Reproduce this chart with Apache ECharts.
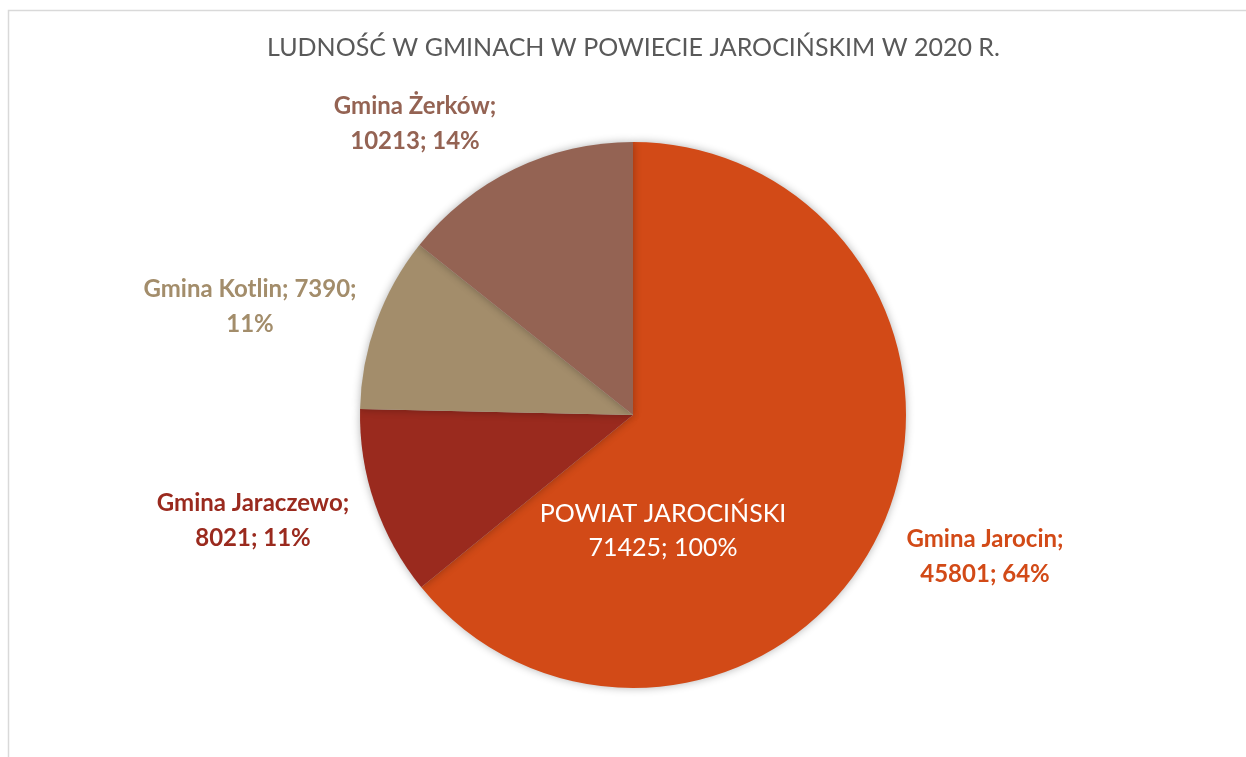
<!DOCTYPE html>
<html>
<head>
<meta charset="utf-8">
<script src="https://cdn.jsdelivr.net/npm/echarts@6/dist/echarts.min.js"></script>
<style>
  html, body { margin: 0; padding: 0; background: #fff; }
  #chart { width: 1246px; height: 757px; }
</style>
</head>
<body>
<div id="chart"></div>
<script>
// dane: ludność gmin powiatu jarocińskiego 2020
var gminy = ['Gmina Jarocin', 'Gmina Jaraczewo', 'Gmina Kotlin', 'Gmina Żerków'];
var ludnosc = [45801, 8021, 7390, 10213];
var kolory = ['#D24A17', '#9A2A1E', '#A38D6B', '#946353'];
var powiat = 'POWIAT JAROCIŃSKI';
var razem = 71425;

// pozycje etykiet (środek tekstu)
var etykietyPos = [[985, 557], [253, 521], [250, 307], [415, 124]];

var chart = echarts.init(document.getElementById('chart'));

var dane = gminy.map(function (g, i) {
    return {
        name: g,
        value: ludnosc[i],
        itemStyle: { color: kolory[i] },
        label: {
            color: kolory[i],
            formatter: i === 2 ? '{b}; {c};\n{d}%' : '{b};\n{c}; {d}%'
        }
    };
});

chart.setOption({
    animation: false,
    title: {
        text: 'LUDNOŚĆ W GMINACH W POWIECIE JAROCIŃSKIM W 2020 R.',
        left: 267,
        top: 35,
        padding: 0,
        textStyle: {
            fontFamily: 'Lato',
            fontSize: 25,
            fontWeight: 'normal',
            color: '#595959'
        }
    },
    graphic: [{
        type: 'rect',
        shape: { x: 8.5, y: 10.5, width: 1260, height: 780 },
        style: { fill: null, stroke: '#d9d9d9', lineWidth: 1.5 },
        silent: true
    }, {
        type: 'text',
        style: {
            text: powiat + '\n' + razem + '; 100%',
            x: 663,
            y: 531,
            align: 'center',
            verticalAlign: 'middle',
            fill: '#ffffff',
            fontFamily: 'Lato',
            fontSize: 25,
            lineHeight: 34
        },
        z: 100
    }],
    series: [{
        type: 'pie',
        center: [633, 415],
        radius: 273,
        startAngle: 90,
        clockwise: true,
        percentPrecision: 0,
        data: dane,
        itemStyle: {
            shadowBlur: 8,
            shadowColor: 'rgba(0,0,0,0.3)'
        },
        label: {
            position: 'outside',
            fontFamily: 'Lato',
            fontWeight: 'bold',
            fontSize: 24,
            lineHeight: 35,
            align: 'center'
        },
        labelLine: { show: false },
        labelLayout: function (p) {
            var pos = etykietyPos[p.dataIndex];
            return { x: pos[0], y: pos[1], align: 'center', verticalAlign: 'middle' };
        }
    }]
});
</script>
</body>
</html>
